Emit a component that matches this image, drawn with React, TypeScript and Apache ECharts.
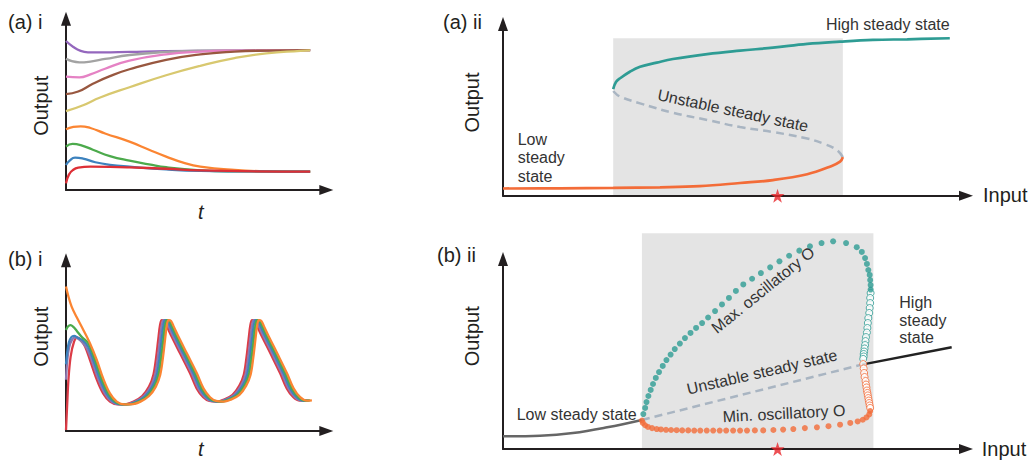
import { useEffect, useRef } from "react";
import * as echarts from "echarts";

type P = [number, number];

// ---------- (a) i : time courses converging to two steady states ----------
const A1_PURPLE: P[] = [[0, 8.7], [0.3, 8.35], [0.6, 8.12], [0.9, 8.04], [1.5, 8.03], [2.6, 8.06], [4.1, 8.1], [10, 8.17]];
const A1_GRAY: P[] = [[0, 7.66], [0.55, 7.45], [1.0, 7.5], [1.6, 7.65], [2.6, 7.88], [4.1, 8.06], [5.5, 8.13], [10, 8.17]];
const A1_PINK: P[] = [[0, 6.62], [0.55, 6.58], [1.0, 6.75], [1.6, 7.08], [2.6, 7.55], [4.1, 7.92], [5.5, 8.08], [6.9, 8.14], [10, 8.17]];
const A1_BROWN: P[] = [[0, 5.6], [0.5, 5.75], [1.1, 6.2], [1.8, 6.65], [2.6, 7.05], [4.1, 7.6], [5.5, 7.92], [6.9, 8.08], [8.2, 8.14], [10, 8.17]];
const A1_OLIVE: P[] = [[0, 4.6], [0.7, 4.95], [1.4, 5.4], [2.6, 6.0], [4.1, 6.7], [5.5, 7.25], [6.9, 7.7], [8.2, 7.98], [9.6, 8.12], [10, 8.15]];
const A1_ORANGE: P[] = [[0, 3.55], [0.3, 3.68], [0.6, 3.72], [1.0, 3.62], [1.6, 3.3], [2.6, 2.82], [3.4, 2.35], [4.1, 1.95], [4.8, 1.6], [5.5, 1.37], [6.9, 1.17], [8.2, 1.09], [10, 1.07]];
const A1_GREEN: P[] = [[0, 2.53], [0.27, 2.69], [0.6, 2.62], [1.1, 2.35], [1.8, 1.98], [2.6, 1.71], [3.4, 1.5], [4.1, 1.33], [5.5, 1.15], [6.9, 1.09], [10, 1.07]];
const A1_BLUE: P[] = [[0, 1.46], [0.15, 1.72], [0.37, 1.89], [0.7, 1.83], [1.2, 1.62], [1.8, 1.47], [2.6, 1.36], [4.1, 1.2], [5.5, 1.12], [10, 1.07]];
const A1_RED: P[] = [[0, 0.39], [0.12, 0.9], [0.3, 1.18], [0.5, 1.3], [1.0, 1.36], [1.8, 1.35], [2.6, 1.32], [4.1, 1.24], [5.5, 1.14], [10, 1.07]];

// ---------- (b) i : oscillating time courses ----------
const B1_RED: P[] = [[0, 0.06], [0.05, 1.6], [0.1, 3.0], [0.19, 4.36], [0.33, 5.23], [0.46, 5.49], [0.6, 5.35], [0.78, 4.95], [0.98, 4.16], [1.25, 3.05], [1.52, 2.2], [1.8, 1.72], [2.12, 1.56], [2.47, 1.58], [2.77, 1.72], [3.12, 2.05], [3.4, 2.6], [3.58, 3.3], [3.69, 4.3], [3.78, 5.4], [3.85, 6.2], [3.92, 6.5], [4.02, 6.45], [4.14, 6.1], [4.32, 5.55], [4.67, 4.55], [5.08, 3.38], [5.35, 2.5], [5.62, 1.98], [5.87, 1.76], [6.17, 1.72], [6.47, 1.84], [6.82, 2.12], [7.1, 2.66], [7.28, 3.3], [7.39, 4.3], [7.48, 5.4], [7.55, 6.2], [7.62, 6.5], [7.72, 6.45], [7.84, 6.1], [8.02, 5.55], [8.37, 4.55], [8.77, 3.38], [9.04, 2.5], [9.31, 1.98], [9.58, 1.78], [9.85, 1.8]];
const B1_PURPLE: P[] = [[0, 3.0], [0.05, 4.1], [0.13, 4.9], [0.25, 5.35], [0.38, 5.48], [0.55, 5.35], [0.72, 5.1], [0.85, 4.85], [1.05, 4.16], [1.32, 3.05], [1.59, 2.2], [1.87, 1.72], [2.19, 1.56], [2.54, 1.58], [2.84, 1.72], [3.19, 2.05], [3.47, 2.6], [3.65, 3.3], [3.76, 4.3], [3.85, 5.4], [3.92, 6.2], [3.99, 6.5], [4.09, 6.45], [4.21, 6.1], [4.39, 5.55], [4.74, 4.55], [5.15, 3.38], [5.42, 2.5], [5.69, 1.98], [5.94, 1.76], [6.24, 1.72], [6.54, 1.84], [6.89, 2.12], [7.17, 2.66], [7.35, 3.3], [7.46, 4.3], [7.55, 5.4], [7.62, 6.2], [7.69, 6.5], [7.79, 6.45], [7.91, 6.1], [8.09, 5.55], [8.44, 4.55], [8.84, 3.38], [9.11, 2.5], [9.38, 1.98], [9.65, 1.78], [9.9, 1.8]];
const B1_BLUE: P[] = [[0, 3.9], [0.05, 4.6], [0.12, 5.2], [0.22, 5.5], [0.33, 5.57], [0.5, 5.45], [0.7, 5.3], [0.9, 4.95], [1.12, 4.16], [1.39, 3.05], [1.66, 2.2], [1.94, 1.72], [2.26, 1.56], [2.61, 1.58], [2.91, 1.72], [3.26, 2.05], [3.54, 2.6], [3.72, 3.3], [3.83, 4.3], [3.92, 5.4], [3.99, 6.2], [4.06, 6.5], [4.16, 6.45], [4.28, 6.1], [4.46, 5.55], [4.81, 4.55], [5.22, 3.38], [5.49, 2.5], [5.76, 1.98], [6.01, 1.76], [6.31, 1.72], [6.61, 1.84], [6.96, 2.12], [7.24, 2.66], [7.42, 3.3], [7.53, 4.3], [7.62, 5.4], [7.69, 6.2], [7.76, 6.5], [7.86, 6.45], [7.98, 6.1], [8.16, 5.55], [8.51, 4.55], [8.91, 3.38], [9.18, 2.5], [9.45, 1.98], [9.72, 1.78], [9.95, 1.8]];
const B1_GREEN: P[] = [[0, 5.92], [0.08, 6.12], [0.18, 6.2], [0.3, 6.1], [0.45, 5.85], [0.65, 5.5], [0.91, 5.14], [1.19, 4.16], [1.46, 3.05], [1.73, 2.2], [2.01, 1.72], [2.33, 1.56], [2.68, 1.58], [2.98, 1.72], [3.33, 2.05], [3.61, 2.6], [3.79, 3.3], [3.9, 4.3], [3.99, 5.4], [4.06, 6.2], [4.13, 6.5], [4.23, 6.45], [4.35, 6.1], [4.53, 5.55], [4.88, 4.55], [5.29, 3.38], [5.56, 2.5], [5.83, 1.98], [6.08, 1.76], [6.38, 1.72], [6.68, 1.84], [7.03, 2.12], [7.31, 2.66], [7.49, 3.3], [7.6, 4.3], [7.69, 5.4], [7.76, 6.2], [7.83, 6.5], [7.93, 6.45], [8.05, 6.1], [8.23, 5.55], [8.58, 4.55], [8.98, 3.38], [9.25, 2.5], [9.52, 1.98], [9.79, 1.78], [10.0, 1.8]];
const B1_ORANGE: P[] = [[0, 8.46], [0.1, 7.87], [0.23, 7.29], [0.44, 6.66], [0.71, 5.92], [0.98, 5.14], [1.26, 4.16], [1.53, 3.05], [1.8, 2.2], [2.08, 1.72], [2.4, 1.56], [2.75, 1.58], [3.05, 1.72], [3.4, 2.05], [3.68, 2.6], [3.86, 3.3], [3.97, 4.3], [4.06, 5.4], [4.13, 6.2], [4.2, 6.5], [4.3, 6.45], [4.42, 6.1], [4.6, 5.55], [4.95, 4.55], [5.36, 3.38], [5.63, 2.5], [5.9, 1.98], [6.15, 1.76], [6.45, 1.72], [6.75, 1.84], [7.1, 2.12], [7.38, 2.66], [7.56, 3.3], [7.67, 4.3], [7.76, 5.4], [7.83, 6.2], [7.9, 6.5], [8.0, 6.45], [8.12, 6.1], [8.3, 5.55], [8.65, 4.55], [9.05, 3.38], [9.32, 2.5], [9.59, 1.98], [9.86, 1.78], [10.07, 1.8]];

// ---------- (a) ii : bistable S-shaped response ----------
const A2_LOW: P[] = [[0, 0.42], [1.23, 0.43], [2.38, 0.45], [3.39, 0.49], [4.25, 0.56], [5.12, 0.74], [5.83, 0.91], [6.57, 1.25], [7.06, 1.69], [7.28, 1.98], [7.34, 2.25]];
const A2_UNSTABLE: P[] = [[7.34, 2.25], [7.21, 2.66], [6.91, 3.04], [6.57, 3.33], [5.83, 3.71], [5.12, 4.0], [4.41, 4.41], [3.67, 4.83], [2.96, 5.38], [2.53, 5.77], [2.4, 6.04], [2.38, 6.21]];
const A2_HIGH: P[] = [[2.38, 6.21], [2.44, 6.62], [2.53, 6.84], [2.74, 7.22], [2.96, 7.51], [3.32, 7.75], [3.67, 7.96], [4.41, 8.25], [5.12, 8.45], [5.83, 8.62], [6.57, 8.84], [7.28, 8.97], [7.99, 9.07], [8.73, 9.11], [9.65, 9.17]];
const A2_BAND = [2.38, 7.34, 0, 9.17];
const A2_STAR: P[] = [[5.93, 0]];

// ---------- (b) ii : oscillatory bifurcation ----------
const B2_LOW: P[] = [[0, 0.67], [0.8, 0.7], [1.51, 0.84], [2.25, 1.14], [3.0, 1.53]];
const B2_UNSTABLE: P[] = [[3.0, 1.53], [7.75, 4.44]];
const B2_HIGH: P[] = [[7.75, 4.44], [9.69, 5.35]];
const B2_BAND = [3.0, 8.0, 0, 11.35];
const B2_STAR: P[] = [[5.93, 0]];
const B2_MAX_STABLE: P[] = [[3.03, 1.84], [3.07, 2.16], [3.1, 2.47], [3.14, 2.79], [3.19, 3.11], [3.24, 3.42], [3.3, 3.74], [3.37, 4.05], [3.45, 4.37], [3.53, 4.68], [3.62, 4.97], [3.71, 5.26], [3.82, 5.55], [3.93, 5.84], [4.05, 6.11], [4.17, 6.37], [4.3, 6.63], [4.43, 6.92], [4.58, 7.26], [4.73, 7.61], [4.88, 7.95], [5.03, 8.32], [5.19, 8.66], [5.38, 8.96], [5.57, 9.26], [5.77, 9.56], [5.97, 9.88], [6.18, 10.17], [6.4, 10.44], [6.63, 10.67], [6.88, 10.84], [7.13, 10.93], [7.41, 10.84], [7.64, 10.62], [7.75, 10.37], [7.82, 10.05], [7.86, 9.74], [7.89, 9.42], [7.92, 9.16], [7.93, 8.89], [7.94, 8.63], [7.94, 8.39]];
const B2_MAX_UNSTABLE: P[] = [[7.94, 8.21], [7.93, 7.95], [7.93, 7.68], [7.92, 7.42], [7.91, 7.16], [7.89, 6.89], [7.88, 6.63], [7.87, 6.37], [7.86, 6.13], [7.84, 5.89], [7.83, 5.68], [7.82, 5.47], [7.81, 5.29], [7.8, 5.13], [7.79, 5.0], [7.79, 4.87], [7.78, 4.74]];
const B2_MIN_UNSTABLE: P[] = [[7.78, 4.47], [7.79, 4.24], [7.8, 4.0], [7.81, 3.79], [7.83, 3.58], [7.84, 3.39], [7.85, 3.24], [7.86, 3.08], [7.87, 2.95], [7.88, 2.82], [7.89, 2.68], [7.9, 2.55], [7.91, 2.42], [7.92, 2.29], [7.93, 2.16]];
const B2_MIN_STABLE: P[] = [[7.93, 2.0], [7.91, 1.82], [7.85, 1.66], [7.77, 1.54], [7.66, 1.45], [7.5, 1.37], [7.28, 1.28], [7.03, 1.2], [6.78, 1.14], [6.52, 1.1], [6.27, 1.05], [6.05, 1.02], [5.84, 1.0], [5.62, 0.98], [5.44, 0.98], [5.27, 0.97], [5.12, 0.97], [4.97, 0.97], [4.82, 0.97], [4.68, 0.97], [4.54, 0.97], [4.4, 0.97], [4.26, 0.97], [4.13, 0.97], [4.0, 0.98], [3.87, 0.98], [3.75, 0.99], [3.63, 1.0], [3.52, 1.01], [3.41, 1.03], [3.32, 1.05], [3.22, 1.1], [3.13, 1.16], [3.07, 1.25], [3.02, 1.37], [3.0, 1.5]];

const FONT = '"Liberation Sans", Arial, Helvetica, sans-serif';
const INK = "#231f20";
const NOTE = "#333333";
const TEAL = "#2e9c94";
const ORANGE = "#f36c38";
const DASH = "#a9b5c2";
const BAND = "#e4e4e4";
const STAR_PATH =
  "path://M50,0 L61.2,34.5 L97.6,34.5 L68.2,55.9 L79.4,90.5 L50,69.1 L20.6,90.5 L31.8,55.9 L2.4,34.5 L38.8,34.5 Z";

function axisBase(gridIndex: number, max: number) {
  return {
    type: "value" as const,
    gridIndex,
    min: 0,
    max,
    axisLine: {
      show: true,
      onZero: false,
      symbol: ["none", "triangle"],
      symbolSize: [10, 14],
      lineStyle: { color: INK, width: 2 },
    },
    axisTick: { show: false },
    axisLabel: { show: false },
    splitLine: { show: false },
  };
}

function lineSeries(idx: number, data: P[], color: string, width: number, smooth: number | boolean, dashed = false, z = 3) {
  return {
    type: "line",
    xAxisIndex: idx,
    yAxisIndex: idx,
    data,
    smooth,
    showSymbol: false,
    symbol: "none",
    clip: false,
    silent: true,
    z,
    lineStyle: { color, width, type: dashed ? [8, 5] : "solid", cap: "butt" },
  };
}

function dotSeries(idx: number, data: P[], color: string, hollow: boolean, size: number, z: number) {
  return {
    type: "scatter",
    xAxisIndex: idx,
    yAxisIndex: idx,
    data,
    symbol: "circle",
    symbolSize: size,
    clip: false,
    silent: true,
    z,
    itemStyle: hollow
      ? { color: "#ffffff", borderColor: color, borderWidth: 1 }
      : { color, borderWidth: 0 },
  };
}

function bandSeries(idx: number, band: number[]) {
  return {
    type: "custom",
    xAxisIndex: idx,
    yAxisIndex: idx,
    data: [band],
    clip: false,
    silent: true,
    z: -5,
    encode: { x: [0, 1], y: [2, 3] },
    renderItem: (_p: any, api: any) => {
      const p0 = api.coord([api.value(0), api.value(3)]);
      const p1 = api.coord([api.value(1), api.value(2)]);
      return {
        type: "rect",
        shape: { x: p0[0], y: p0[1], width: p1[0] - p0[0], height: p1[1] - p0[1] },
        style: { fill: BAND },
      };
    },
  };
}

function starSeries(idx: number, data: P[]) {
  return {
    type: "scatter",
    xAxisIndex: idx,
    yAxisIndex: idx,
    data,
    symbol: STAR_PATH,
    symbolSize: 14,
    clip: false,
    silent: true,
    z: 20,
    itemStyle: { color: "#e8262b" },
  };
}

function txt(text: string, x: number, y: number, opts: any = {}) {
  return {
    type: "text",
    x,
    y,
    rotation: opts.rotation || 0,
    z: 100,
    silent: true,
    style: {
      text,
      fill: opts.fill || INK,
      fontSize: opts.size || 20,
      fontFamily: FONT,
      fontStyle: opts.italic ? "italic" : "normal",
      align: opts.align || "left",
      verticalAlign: "middle",
      lineHeight: opts.lineHeight,
    },
  };
}

export default function App() {
  const ref = useRef<HTMLDivElement>(null);

  useEffect(() => {
    if (!ref.current) return;
    const chart = echarts.init(ref.current, undefined, { renderer: "svg" });
    const deg = Math.PI / 180;
    const option: any = {
      animation: false,
      backgroundColor: "#ffffff",
      grid: [
        { left: 66, top: 18.7, width: 260.3, height: 171.3, containLabel: false, outerBoundsMode: "none" },
        { left: 66, top: 260.3, width: 260.3, height: 170.7, containLabel: false, outerBoundsMode: "none" },
        { left: 503, top: 24, width: 463, height: 171.7, containLabel: false, outerBoundsMode: "none" },
        { left: 503, top: 259, width: 463, height: 190, containLabel: false, outerBoundsMode: "none" },
      ],
      xAxis: [axisBase(0, 10.66), axisBase(1, 10.66), axisBase(2, 10), axisBase(3, 10)],
      yAxis: [axisBase(0, 10), axisBase(1, 10), axisBase(2, 10), axisBase(3, 10)],
      series: [
        // (a) i
        lineSeries(0, A1_PURPLE, "#9467bd", 2.3, 0.5),
        lineSeries(0, A1_GRAY, "#a3a3a3", 2.3, 0.5),
        lineSeries(0, A1_PINK, "#e582c4", 2.3, 0.5),
        lineSeries(0, A1_BROWN, "#98573f", 2.3, 0.5),
        lineSeries(0, A1_OLIVE, "#d8c86f", 2.3, 0.5),
        lineSeries(0, A1_ORANGE, "#fb8532", 2.3, 0.5),
        lineSeries(0, A1_GREEN, "#4caa4c", 2.3, 0.5),
        lineSeries(0, A1_BLUE, "#3d82be", 2.3, 0.5),
        lineSeries(0, A1_RED, "#dd2f36", 2.3, 0.5),
        // (b) i
        lineSeries(1, B1_RED, "#dc3b46", 2.3, 0.35),
        lineSeries(1, B1_PURPLE, "#8d78b0", 2.3, 0.35),
        lineSeries(1, B1_BLUE, "#3d82be", 2.3, 0.35),
        lineSeries(1, B1_GREEN, "#4caa4c", 2.3, 0.35),
        lineSeries(1, B1_ORANGE, "#fb8532", 2.3, 0.35),
        // (a) ii
        bandSeries(2, A2_BAND),
        lineSeries(2, A2_UNSTABLE, DASH, 2.5, 0.4, true),
        lineSeries(2, A2_LOW, ORANGE, 2.7, 0.4),
        lineSeries(2, A2_HIGH, TEAL, 2.7, 0.4),
        starSeries(2, A2_STAR),
        // (b) ii
        bandSeries(3, B2_BAND),
        lineSeries(3, B2_LOW, "#666666", 2.5, 0.4),
        lineSeries(3, B2_UNSTABLE, DASH, 2.5, false, true),
        lineSeries(3, B2_HIGH, "#222222", 2.5, false),
        dotSeries(3, B2_MAX_UNSTABLE, TEAL, true, 7, 6),
        dotSeries(3, B2_MIN_UNSTABLE, ORANGE, true, 7, 6),
        dotSeries(3, B2_MAX_STABLE, TEAL, false, 6, 7),
        dotSeries(3, B2_MIN_STABLE, ORANGE, false, 6, 7),
        starSeries(3, B2_STAR),
      ],
      graphic: {
        elements: [
          // panel labels
          txt("(a) i", 8, 21.7),
          txt("(b) i", 8, 259),
          txt("(a) ii", 443, 22),
          txt("(b) ii", 437, 254.5),
          // axis titles
          txt("Output", 40.5, 105.8, { align: "center", rotation: 90 * deg }),
          txt("Output", 40.5, 336.7, { align: "center", rotation: 90 * deg }),
          txt("Output", 472, 102.5, { align: "center", rotation: 90 * deg }),
          txt("Output", 472, 336.3, { align: "center", rotation: 90 * deg }),
          txt("t", 200.8, 212, { align: "center", italic: true }),
          txt("t", 200.8, 449, { align: "center", italic: true }),
          txt("Input", 983, 194.5),
          txt("Input", 981.7, 448.7),
          // (a) ii annotations
          txt("Low\nsteady\nstate", 517.7, 157.5, { size: 16, fill: NOTE, lineHeight: 18.5 }),
          txt("High steady state", 826, 24, { size: 16, fill: NOTE }),
          txt("Unstable steady state", 733, 110.5, { size: 16, fill: NOTE, align: "center", rotation: -12 * deg }),
          // (b) ii annotations
          txt("Low steady state", 516.7, 414, { size: 16, fill: NOTE }),
          txt("High\nsteady\nstate", 899.3, 320, { size: 16, fill: NOTE, lineHeight: 17.5 }),
          txt("Unstable steady state", 762, 372, { size: 16, fill: NOTE, align: "center", rotation: 13 * deg }),
          txt("Max. oscillatory O", 763, 290, { size: 16, fill: NOTE, align: "center", rotation: 39 * deg }),
          txt("Min. oscillatory O", 784, 413.5, { size: 16, fill: NOTE, align: "center", rotation: 3 * deg }),
        ],
      },
    };
    chart.setOption(option);
    return () => chart.dispose();
  }, []);

  return (
    <div
      ref={ref}
      style={{ position: "fixed", left: 0, top: 0, width: 1032, height: 460, background: "#fff" }}
    />
  );
}
